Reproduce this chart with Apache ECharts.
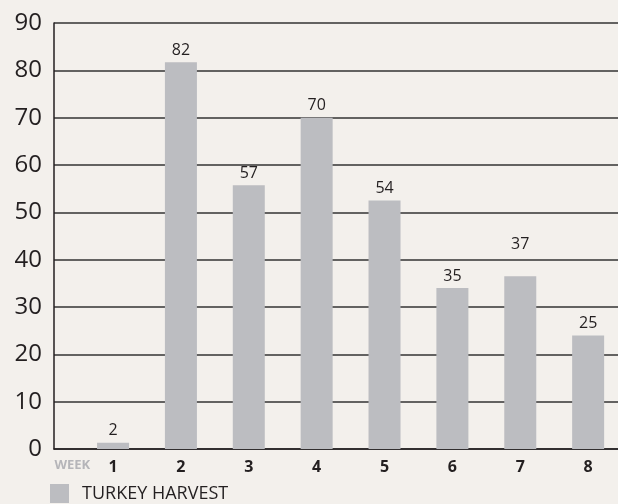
<!DOCTYPE html>
<html>
<head>
<meta charset="utf-8">
<script src="https://cdn.jsdelivr.net/npm/echarts@6/dist/echarts.min.js"></script>
<style>
  html, body { margin: 0; padding: 0; background: #f3f0ec; }
  #chart { width: 618px; height: 504px; }
</style>
</head>
<body>
<div id="chart"></div>
<script>
// weeks on the x axis
const weeks = [1, 2, 3, 4, 5, 6, 7, 8];
// bar heights as drawn
const harvest = [1.3, 81.7, 55.7, 70, 52.5, 34, 36.5, 24];
// numbers printed above the bars
const harvestLabels = ['2', '82', '57', '70', '54', '35', '37', '25'];
const yTicks = [0, 10, 20, 30, 40, 50, 60, 70, 80, 90];

const dark = '#231f20';
const chart = echarts.init(document.getElementById('chart'));

const option = {
    backgroundColor: '#f3f0ec',
    animation: false,
    grid: { left: 54, right: 0, top: 23, bottom: 55 },
    legend: {
        left: 50,
        top: 484,
        padding: 0,
        itemWidth: 19,
        itemHeight: 19,
        itemGap: 10,
        icon: 'rect',
        textStyle: { color: dark, fontSize: 18, fontFamily: 'Open Sans', padding: [0, 0, 0, 8] },
        data: ['TURKEY HARVEST']
    },
    xAxis: {
        type: 'value',
        min: 0.13,
        max: 8.44,
        splitLine: { show: false },
        axisLine: { show: true, lineStyle: { color: dark, width: 1.5 } },
        axisTick: { show: false },
        axisLabel: {
            customValues: [0.4].concat(weeks),
            margin: 10,
            formatter: v => (v < 1 ? '{w|WEEK}' : '{n|' + Math.round(v) + '}'),
            rich: {
                w: { color: '#b5b5b9', fontSize: 13, fontWeight: 'bold', fontFamily: 'Open Sans' },
                n: { color: dark, fontSize: 16, fontWeight: 'bold', fontFamily: 'Open Sans' }
            }
        }
    },
    yAxis: {
        type: 'value',
        min: 0,
        max: 90,
        interval: 10,
        axisLine: { show: true, lineStyle: { color: dark, width: 1.5 } },
        axisTick: { show: false },
        axisLabel: {
            color: dark,
            fontSize: 24,
            fontFamily: 'Open Sans',
            margin: 12,
            formatter: v => (yTicks.includes(v) ? String(v) : '')
        },
        splitLine: { show: true, lineStyle: { color: '#333', width: 1.5 } }
    },
    series: [
        {
            name: 'TURKEY HARVEST',
            type: 'bar',
            barWidth: 32,
            itemStyle: { color: '#bcbdc1' },
            data: weeks.map((w, i) => ({
                value: [w, harvest[i]],
                label: w === 7 ? { offset: [0, -20] } : undefined
            })),
            label: {
                show: true,
                position: 'top',
                distance: 4,
                color: dark,
                fontSize: 16,
                fontFamily: 'Open Sans',
                formatter: p => harvestLabels[p.dataIndex]
            }
        }
    ]
};

chart.setOption(option);
</script>
</body>
</html>
